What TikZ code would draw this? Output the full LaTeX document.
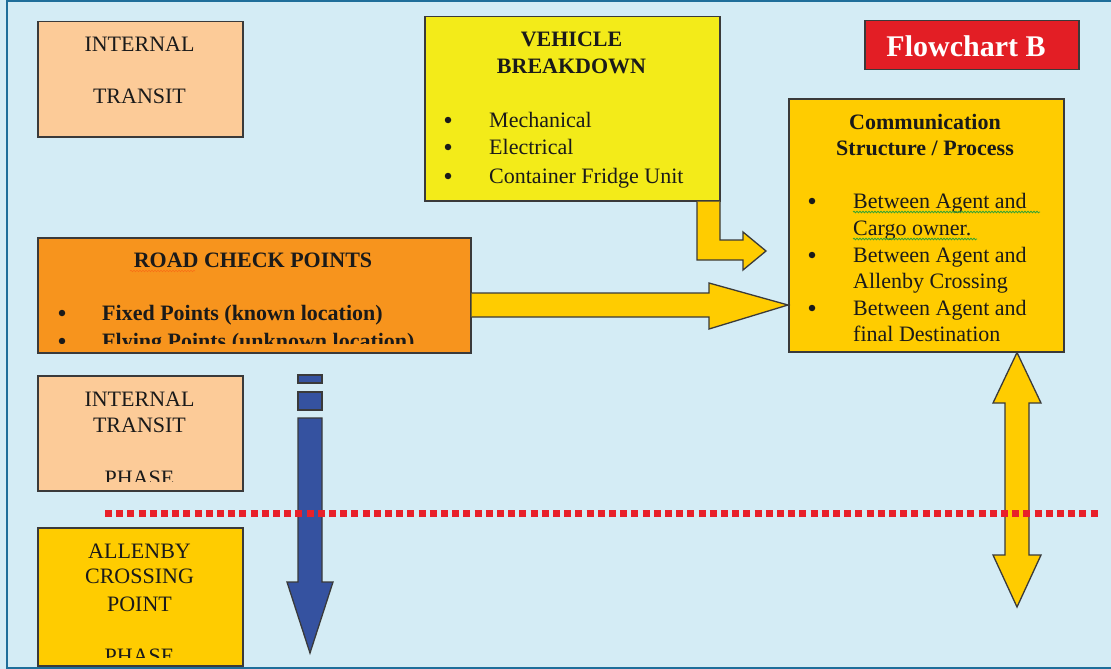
\documentclass[tikz,border=0pt]{standalone}
\usepackage{fontspec}
\setmainfont{Liberation Serif}
\usetikzlibrary{decorations.pathmorphing}
\definecolor{bgblue}{HTML}{D4ECF5}
\definecolor{framecol}{HTML}{1F6E9A}
\definecolor{peach}{HTML}{FCCB98}
\definecolor{vyellow}{HTML}{F3EB19}
\definecolor{gold}{HTML}{FFCC00}
\definecolor{orangebox}{HTML}{F7941D}
\definecolor{redbox}{HTML}{E31E25}
\definecolor{bluearrow}{HTML}{3552A0}
\definecolor{dotred}{HTML}{E8202A}
\definecolor{edgecol}{HTML}{3A3A3A}
\definecolor{txtcol}{HTML}{1A1A1A}
\begin{document}
\begin{tikzpicture}[x=1pt,y=-1pt,
  box/.style={draw=edgecol, line width=1.5pt, rectangle, inner sep=0pt, anchor=north west},
  blockarrow/.style={draw=edgecol, line width=1.3pt, line join=miter},
  txt/.style={inner sep=0pt, text=txtcol, font=\fontsize{22}{26}\selectfont},
  btxt/.style={txt, font=\fontsize{22}{26}\selectfont\bfseries},
  bul/.style={circle, fill=txtcol, inner sep=0pt, minimum size=6.5pt},
  squiggle/.style={decorate, decoration={snake, amplitude=0.8pt, segment length=3pt}, line width=0.8pt}
]
\useasboundingbox (0,0) rectangle (1111,669);
\fill[bgblue] (0,0) rectangle (1111,669);
\draw[framecol, line width=2pt] (1115,1) -- (7,1) -- (7,668) -- (1115,668);

% ---------- boxes ----------
\node[box, fill=peach, minimum width=205pt, minimum height=115pt] (it1) at (37,21) {};
\node[txt, anchor=base] (it1a) at (139.5,52) {INTERNAL};
\node[txt, anchor=base] (it1b) at (139.5,103) {TRANSIT};

\node[box, fill=vyellow, minimum width=295pt, minimum height=184pt] (veh) at (424,16) {};
\node[btxt, anchor=base] (veha) at (571.5,47) {VEHICLE};
\node[btxt, anchor=base] (vehb) at (571.5,74) {BREAKDOWN};
\node[bul] (vehd1) at (448,120) {};
\node[txt, anchor=base west] (veh1) at (489,127) {Mechanical};
\node[bul] (vehd2) at (448,147) {};
\node[txt, anchor=base west] (veh2) at (489,154) {Electrical};
\node[bul] (vehd3) at (448,176) {};
\node[txt, anchor=base west] (veh3) at (489,183) {Container Fridge Unit};

\node[box, fill=redbox, minimum width=214pt, minimum height=49pt] (fc) at (864,20) {};
\node[inner sep=0pt, text=white, font=\fontsize{30}{34}\selectfont\bfseries, anchor=base] (fct) at (966,57) {Flowchart B};

\node[box, fill=gold, minimum width=275pt, minimum height=253pt] (comm) at (788,98) {};
\node[btxt, anchor=base] (comma) at (925,129) {Communication};
\node[btxt, anchor=base] (commb) at (925,155) {Structure / Process};
\node[bul] (commd1) at (812,201) {};
\node[txt, anchor=base west] (comm1) at (853,208) {Between Agent and};
\node[txt, anchor=base west] (comm2) at (853,235) {Cargo owner.};
\node[bul] (commd2) at (812,255) {};
\node[txt, anchor=base west] (comm3) at (853,262) {Between Agent and};
\node[txt, anchor=base west] (comm4) at (853,288) {Allenby Crossing};
\node[bul] (commd3) at (812,308) {};
\node[txt, anchor=base west] (comm5) at (853,315) {Between Agent and};
\node[txt, anchor=base west] (comm6) at (853,341) {final Destination};
\draw[squiggle, green!55!black!80] (853,212) -- (1040,212);
\draw[squiggle, green!55!black!80] (853,239) -- (977,239);

\node[box, fill=orangebox, minimum width=433pt, minimum height=115pt] (road) at (37,237) {};
\node[btxt, anchor=base] (roada) at (253,267) {ROAD CHECK POINTS};
\draw[squiggle, red!25!orangebox, line width=0.5pt] (130,271) -- (195,271);
\node[bul] (roadd1) at (62,313) {};
\node[btxt, anchor=base west] (road1) at (102,320) {Fixed Points (known location)};
\begin{scope}
  \clip (37,237) rectangle (470,343);
  \node[bul] (roadd2) at (62,341) {};
  \node[btxt, anchor=base west] (road2) at (102,348) {Flying Points (unknown location)};
\end{scope}

\node[box, fill=peach, minimum width=205pt, minimum height=115pt] (it2) at (37,375) {};
\node[txt, anchor=base] (it2a) at (139.5,406) {INTERNAL};
\node[txt, anchor=base] (it2b) at (139.5,432) {TRANSIT};
\begin{scope}
  \clip (37,375) rectangle (242,481);
  \node[txt, anchor=base] (it2c) at (139.5,485) {PHASE};
\end{scope}

\node[box, fill=gold, minimum width=205pt, minimum height=138pt] (all) at (37,527) {};
\node[txt, anchor=base] (alla) at (139.5,558) {ALLENBY};
\node[txt, anchor=base] (allb) at (139.5,583) {CROSSING};
\node[txt, anchor=base] (allc) at (139.5,611) {POINT};
\begin{scope}
  \clip (37,527) rectangle (242,657);
  \node[txt, anchor=base] (alld) at (139.5,663) {PHASE};
\end{scope}

% ---------- block arrows ----------
% road -> communication
\draw[blockarrow, fill=gold] (road.east |- 0,293) -- (709,293) -- (709,283) -- (comm.west |- 0,305) -- (709,329) -- (709,317) -- (road.east |- 0,317);
% vehicle -> communication (bent)
\draw[blockarrow, fill=gold] (veh.south -| 697,0) -- (697,260) -- (743,260) -- (743,270) -- (766,251) -- (743,232) -- (743,240) -- (720,240) -- (veh.south -| 720,0);
% blue dashed down arrow
\draw[blockarrow, fill=bluearrow] (298,375) rectangle (322,383);
\draw[blockarrow, fill=bluearrow] (298,392) rectangle (322,410);
\draw[blockarrow, fill=bluearrow] (298,418) -- (322,418) -- (322,582) -- (333,582) -- (310,653) -- (287,582) -- (298,582) -- cycle;
% double arrow under communication
\draw[blockarrow, fill=gold] (comm.south -| 1017,0) -- (1041,403) -- (1029,403) -- (1029,555) -- (1041,555) -- (1017,607) -- (993,555) -- (1005,555) -- (1005,403) -- (993,403) -- cycle;

% ---------- red dotted divider ----------
\draw[dotred, line width=7pt, dash pattern=on 7pt off 4.2pt] (105,513) -- (1100,513);
\end{tikzpicture}
\end{document}
